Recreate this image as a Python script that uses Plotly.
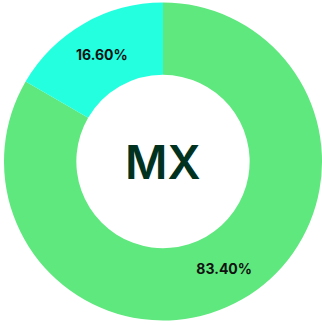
import plotly.graph_objects as go

# Share of the two segments
labels = ["MX", "Other"]
shares = [83.40, 16.60]
colors = ["#5EE87E", "#24FFDF"]
center_label = "MX"

fig = go.Figure(
    go.Pie(
        labels=labels,
        values=shares,
        hole=0.545,
        sort=False,
        direction="clockwise",
        rotation=0,
        marker=dict(colors=colors, line=dict(width=0)),
        texttemplate="%{value:.2f}%",
        textposition="inside",
        insidetextorientation="horizontal",
        textfont=dict(family="Inter", size=14, color="#111111", weight=700),
        hoverinfo="label+value",
        showlegend=False,
        domain=dict(x=[0.0, 1.0], y=[0.0, 1.0]),
    )
)

fig.add_annotation(
    text=center_label,
    x=0.5, y=0.5, xref="paper", yref="paper",
    showarrow=False,
    font=dict(family="Inter", size=46, color="#00331F", weight=600),
)

fig.update_layout(
    width=322,
    height=325,
    margin=dict(l=4, r=0, t=1, b=3),
    paper_bgcolor="white",
    plot_bgcolor="white",
)

fig.write_html("out.html")
